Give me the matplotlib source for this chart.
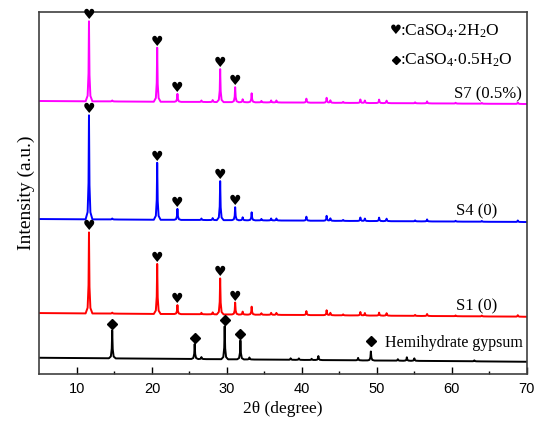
import numpy as np
import matplotlib
matplotlib.use("Agg")
import matplotlib.pyplot as plt

plt.rcParams['mathtext.fontset'] = 'custom'
plt.rcParams['mathtext.rm'] = 'Liberation Serif'
plt.rcParams['mathtext.it'] = 'Liberation Serif:italic'

# peak lists (2theta, height in arbitrary units)
gyp_pos = [11.6, 14.7, 20.7, 23.4, 26.6, 28.1, 29.1, 31.1, 32.1, 33.3, 34.6,
           35.9, 36.6, 40.6, 43.3, 43.8, 45.5, 47.8, 48.4, 50.3, 51.3, 55.1,
           56.7, 60.5, 64.0, 68.8]
s1_h = [81, 1, 50, 9, 1.5, 2, 36, 12, 3, 8, 1.5, 2, 2, 4, 5, 2.5, 1, 3.5,
        2.5, 3, 2.5, 1, 2, 0.8, 0.8, 1.5]
s4_h = [104, 1, 57, 11, 1.5, 2, 39, 13, 3, 8, 1.5, 2, 2, 4, 5, 2.5, 1, 3.5,
        2.5, 3.5, 2.5, 1, 2, 0.8, 0.8, 1.5]
s7_h = [80, 1, 54, 8, 1.5, 2, 33, 15, 3, 9, 1.5, 2, 2, 4, 5, 2.5, 1, 3.5,
        2.5, 3.5, 2.5, 1, 2, 0.8, 0.8, 1.5]

hemi_pos = [14.7, 25.7, 26.6, 29.7, 31.8, 33.0, 38.5, 39.6, 41.3, 42.2,
            47.5, 49.2, 52.8, 54.0, 55.0, 63.0]
hemi_h = [28, 15, 2, 33, 19, 2, 1.5, 1.5, 1.2, 4, 2.5, 9, 1.5, 3.5, 2.5, 1]

# baseline at 5 and at 70 degrees
hemi_base = [16.3, 12.3]
s1_base = [61, 57.3]
s4_base = [155, 152]
s7_base = [273, 270]

gyp_marks = [11.6, 20.7, 23.4, 29.1, 31.1]
hemi_marks = [14.7, 25.7, 29.7, 31.8, 49.2]

# shape of one peak
prof_dx = np.array([-0.45, -0.18, -0.06, 0, 0.06, 0.18, 0.45])
prof_f = np.array([0, 0.07, 0.35, 1, 0.35, 0.07, 0])

x = np.linspace(5, 70, 6501)


def pattern(pos, h, base):
    y = np.interp(x, [5, 70], base)
    for p, hh in zip(pos, h):
        y = y + hh * np.interp(x, p + prof_dx, prof_f)
    return y


def top_at(pos, h, base, p):
    i = pos.index(p)
    return np.interp(p, [5, 70], base) + h[i]


fig = plt.figure(figsize=(5.5, 4.28), dpi=100)
ax = fig.add_axes([0.0718, 0.126, 0.886, 0.846])

curves = [
    (hemi_pos, hemi_h, hemi_base, 'black'),
    (gyp_pos, s1_h, s1_base, '#ff0000'),
    (gyp_pos, s4_h, s4_base, '#0000ff'),
    (gyp_pos, s7_h, s7_base, '#ff00ff'),
]
for pos, h, base, c in curves:
    ax.plot(x, pattern(pos, h, base), color=c, lw=1.4)

gap = 6
for h, base in [(s1_h, s1_base), (s4_h, s4_base), (s7_h, s7_base)]:
    for p in gyp_marks:
        ax.text(p, top_at(gyp_pos, h, base, p) + gap, '\u2665', ha='center',
                va='center', fontsize=10, family='DejaVu Sans', clip_on=False)

for p in hemi_marks:
    yy = top_at(hemi_pos, hemi_h, hemi_base, p) + gap
    if p == 49.2:
        yy += 4
    ax.plot([p], [yy], marker='D', ms=5.5, color='black', ls='none',
            clip_on=False)

serif = ['Liberation Serif', 'DejaVu Serif']
ax.text(52.5, 343, '\u2665', ha='center', va='center', fontsize=9.5,
        family='DejaVu Sans')
ax.text(53.1, 343, r':CaSO$_\mathrm{4}$$\cdot$2H$_\mathrm{2}$O', ha='left',
        va='center', fontsize=12.5, family=serif)
ax.plot([52.5], [314], marker='D', ms=4.5, color='black', ls='none')
ax.text(53.1, 314, r':CaSO$_\mathrm{4}$$\cdot$0.5H$_\mathrm{2}$O', ha='left',
        va='center', fontsize=12.5, family=serif)

ax.text(69.4, 280, 'S7 (0.5%)', ha='right', va='center', fontsize=12,
        family=serif)
ax.text(66.0, 163, 'S4 (0)', ha='right', va='center', fontsize=12,
        family=serif)
ax.text(66.0, 68, 'S1 (0)', ha='right', va='center', fontsize=12,
        family=serif)
ax.text(51.1, 31, 'Hemihydrate gypsum', ha='left', va='center', fontsize=11.5,
        family=serif)

ax.set_xlim(5, 70)
ax.set_ylim(0, 362)
ax.set_xticks([10, 20, 30, 40, 50, 60, 70])
ax.set_xticks([15, 25, 35, 45, 55, 65], minor=True)
ax.set_yticks([])
ax.tick_params(axis='x', which='major', direction='in', length=5,
               width=1, labelsize=10.5, pad=6)
ax.tick_params(axis='x', which='minor', direction='in', length=2.5, width=1)
for lab in ax.get_xticklabels():
    lab.set_family('Liberation Sans')
for sp in ax.spines.values():
    sp.set_color('#404040')
    sp.set_linewidth(1.2)

ax.set_xlabel('2\u03b8 (degree)', fontsize=12.5, family=serif, labelpad=3)
ax.set_ylabel('Intensity (a.u.)', fontsize=14, family=serif, labelpad=3)

fig.savefig('out.png', dpi=100)
